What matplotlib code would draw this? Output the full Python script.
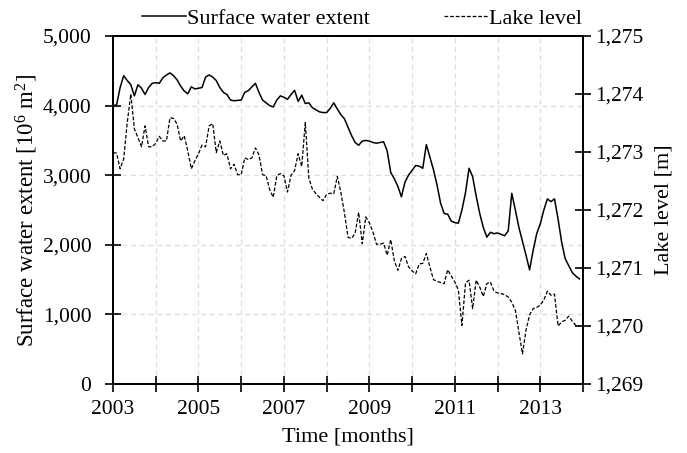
import matplotlib
matplotlib.use("Agg")
import matplotlib.pyplot as plt
import matplotlib.ticker as mticker
import numpy as np
import pandas as pd

plt.rcParams['font.family'] = ['Liberation Serif', 'DejaVu Serif']
plt.rcParams['mathtext.fontset'] = 'custom'
plt.rcParams['mathtext.rm'] = 'Liberation Serif'
plt.rcParams['mathtext.it'] = 'Liberation Serif:italic'

# Monthly series, Jan 2003 - Dec 2013
dates = pd.date_range("2003-01-01", periods=132, freq="MS")

surface_extent = [
    4000, 4010, 4260, 4430, 4360, 4300, 4140, 4300, 4250, 4160, 4260, 4320,
    4330, 4320, 4400, 4440, 4470, 4430, 4370, 4280, 4210, 4170, 4270, 4240,
    4250, 4260, 4410, 4440, 4410, 4360, 4260, 4190, 4160, 4080, 4070, 4075,
    4080, 4190, 4215, 4270, 4320, 4190, 4080, 4040, 4000, 3980, 4080, 4140,
    4120, 4090, 4160, 4220, 4060, 4150, 4030, 4040, 3970, 3940, 3910, 3900,
    3900, 3960, 4040, 3950, 3870, 3810, 3690, 3570, 3470, 3430, 3490, 3500,
    3490, 3470, 3460, 3470, 3480, 3350, 3040, 2950, 2840, 2690, 2900, 3000,
    3070, 3140, 3130, 3100, 3440, 3260, 3080, 2860, 2600, 2450, 2440, 2340,
    2320, 2310, 2500, 2750, 3100, 2980, 2700, 2450, 2250, 2110, 2180, 2160,
    2170, 2150, 2130, 2200, 2740, 2500, 2250, 2050, 1850, 1640, 1920, 2160,
    2300, 2500, 2660, 2620, 2660, 2370, 2040, 1800, 1700, 1600, 1550, 1510,
]

lake_level = [
    1272.99, 1272.98, 1272.71, 1272.88, 1273.51, 1274.00, 1273.40, 1273.25, 1273.09, 1273.45, 1273.09, 1273.09,
    1273.15, 1273.27, 1273.19, 1273.19, 1273.59, 1273.58, 1273.48, 1273.19, 1273.28, 1273.02, 1272.71, 1272.85,
    1272.97, 1273.12, 1273.09, 1273.45, 1273.49, 1272.99, 1273.19, 1272.94, 1272.97, 1272.71, 1272.79, 1272.61,
    1272.61, 1272.90, 1272.87, 1272.90, 1273.07, 1272.95, 1272.61, 1272.59, 1272.35, 1272.22, 1272.59, 1272.63,
    1272.59, 1272.31, 1272.60, 1272.68, 1272.97, 1272.75, 1273.51, 1272.55, 1272.36, 1272.28, 1272.22, 1272.16,
    1272.27, 1272.29, 1272.28, 1272.58, 1272.30, 1271.95, 1271.53, 1271.51, 1271.60, 1271.96, 1271.42, 1271.88,
    1271.78, 1271.62, 1271.41, 1271.41, 1271.43, 1271.22, 1271.49, 1271.13, 1270.96, 1271.16, 1271.20, 1271.02,
    1270.95, 1270.90, 1271.07, 1271.08, 1271.25, 1271.02, 1270.80, 1270.77, 1270.75, 1270.73, 1270.97, 1270.86,
    1270.76, 1270.62, 1270.01, 1270.74, 1270.79, 1270.30, 1270.79, 1270.67, 1270.51, 1270.73, 1270.76, 1270.60,
    1270.57, 1270.56, 1270.54, 1270.50, 1270.41, 1270.27, 1269.90, 1269.52, 1269.93, 1270.19, 1270.30, 1270.32,
    1270.36, 1270.45, 1270.60, 1270.53, 1270.55, 1270.00, 1270.07, 1270.10, 1270.17, 1270.08, 1270.01, 1270.00,
]

year_ticks = list(range(2003, 2015))
label_years = [2003, 2005, 2007, 2009, 2011, 2013]

# decimal-year axis
t = dates.year + (dates.month - 1) / 12.0

fig = plt.figure(figsize=(6.87, 4.53), dpi=100)
ax = fig.add_axes([0.1645, 0.1523, 0.6841, 0.7682])
ax2 = ax.twinx()

ln1, = ax.plot(t, surface_extent, color='black', lw=1.1, label='Surface water extent')
ln2, = ax2.plot(t, lake_level, color='black', lw=0.9, ls=(0, (3, 1.5)), label='Lake level')

ax.set_xlim(2003, 2014)
ax.set_ylim(0, 5000)
ax2.set_ylim(1269, 1275)

ax.set_xticks(year_ticks)
ax.set_xticklabels([str(y) if y in label_years else '' for y in year_ticks])
ax.set_yticks([0, 1000, 2000, 3000, 4000, 5000])
ax.yaxis.set_major_formatter(mticker.FuncFormatter(lambda v, p: f"{int(v):,}"))
ax2.set_yticks(range(1269, 1276))
ax2.yaxis.set_major_formatter(mticker.FuncFormatter(lambda v, p: f"{int(v):,}"))

fs = 15.5
ax.tick_params(axis='both', direction='inout', length=11, width=1.2, labelsize=fs, colors='black')
ax.tick_params(axis='x', pad=6)
ax.tick_params(axis='y', pad=10)
ax2.tick_params(axis='y', direction='inout', length=11, width=1.2, labelsize=fs, pad=3)

ax.grid(True, color='#dddddd', ls=(0, (4, 3)), lw=0.9)
ax.set_axisbelow(True)

for a in (ax, ax2):
    for s in a.spines.values():
        s.set_linewidth(1.4)
        s.set_color('black')

ax.set_xlabel('Time [months]', fontsize=16, labelpad=6)
ax.set_ylabel(r'Surface water extent [10$^{6}$ m$^{2}$]', fontsize=16.5, labelpad=2)
ax2.set_ylabel('Lake level [m]', fontsize=16, labelpad=8)

fig.legend(handles=[ln1, ln2], loc='upper center', bbox_to_anchor=(0.527, 1.025), ncol=2,
           frameon=False, fontsize=16, handlelength=2.0, handletextpad=0.05, columnspacing=3.3)

fig.savefig('out.png', dpi=100)
